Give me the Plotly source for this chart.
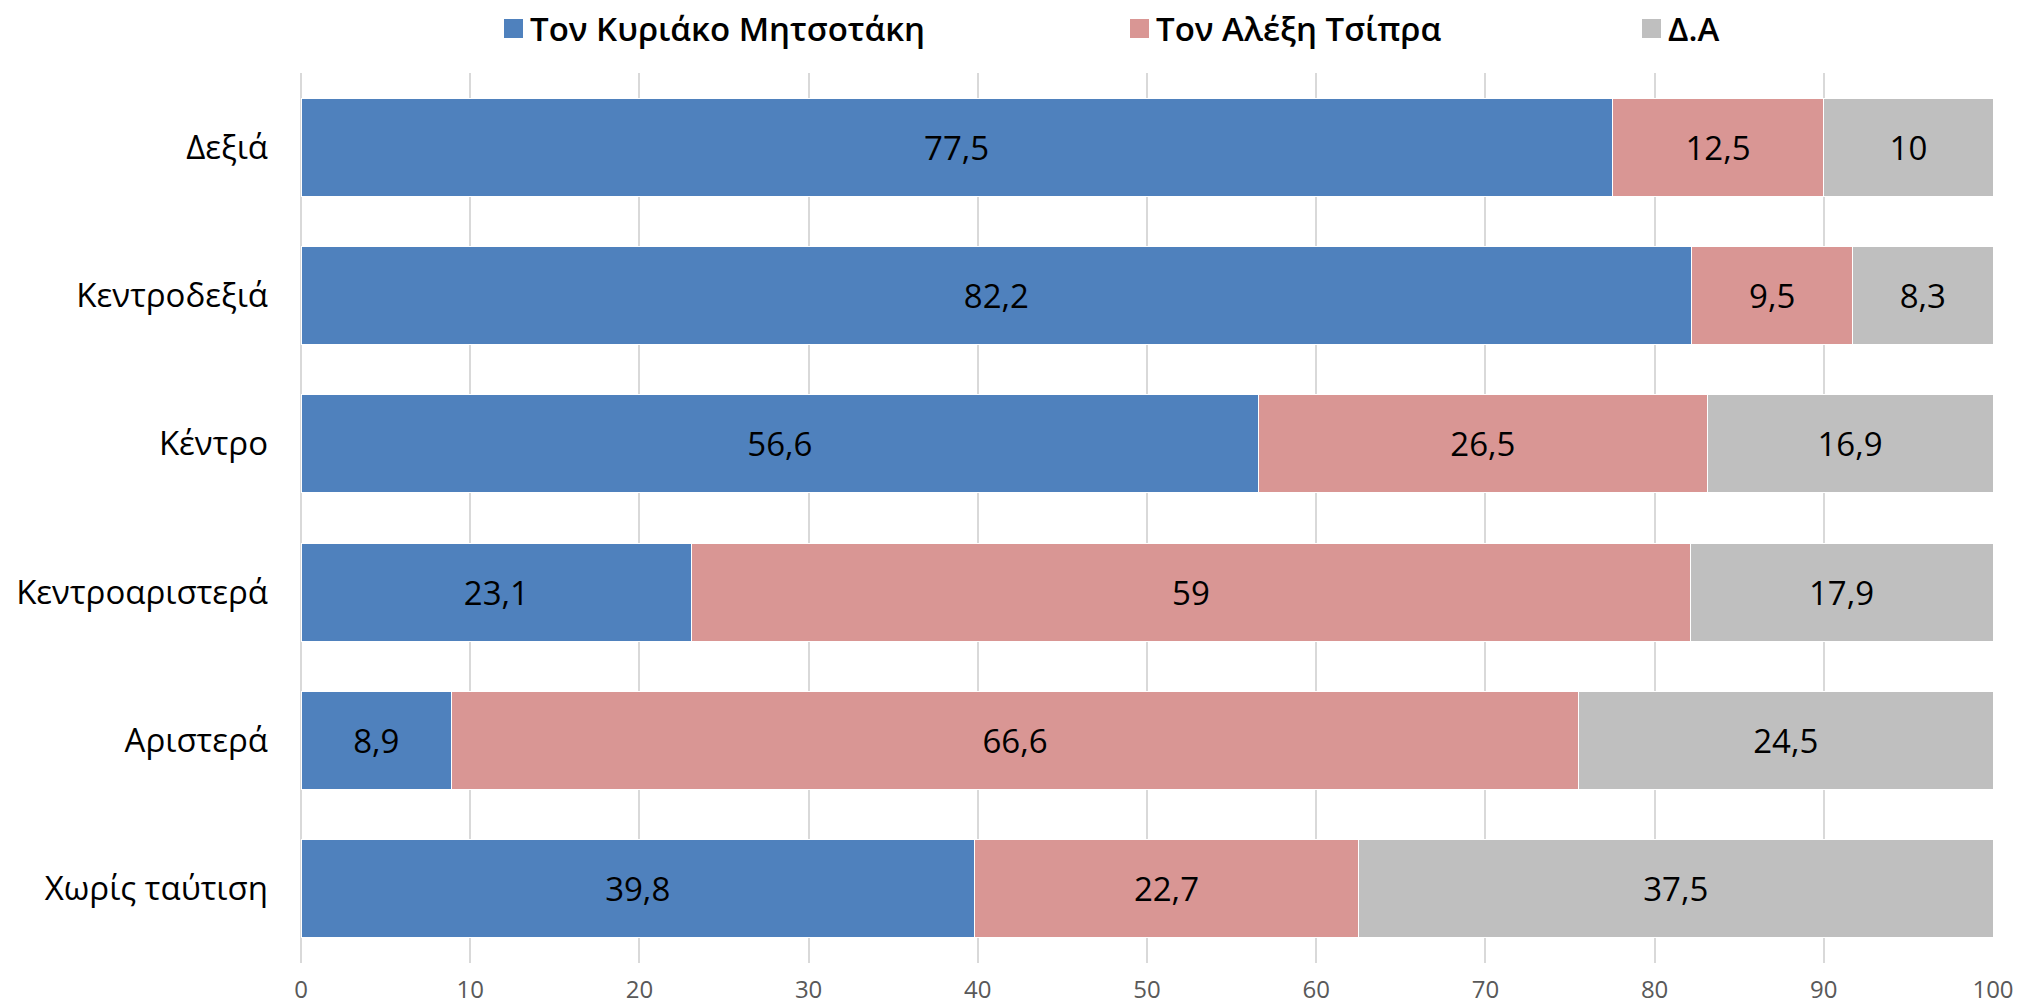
import plotly.graph_objects as go

# Survey: preferred prime minister by political self-placement (%)
categories = ["Δεξιά", "Κεντροδεξιά", "Κέντρο", "Κεντροαριστερά", "Αριστερά", "Χωρίς ταύτιση"]
series_names = ["Τον Κυριάκο Μητσοτάκη", "Τον Αλέξη Τσίπρα", "Δ.Α"]
mitsotakis = [77.5, 82.2, 56.6, 23.1, 8.9, 39.8]
tsipras = [12.5, 9.5, 26.5, 59, 66.6, 22.7]
dk_na = [10, 8.3, 16.9, 17.9, 24.5, 37.5]
x_ticks = [0, 10, 20, 30, 40, 50, 60, 70, 80, 90, 100]

colors = ["#4f81bd", "#d99694", "#bfbfbf"]
FONT = "Open Sans"

W, H = 2018, 1006
ML, MR, MT, MB = 301, 25, 73, 43
PW, PH = W - ML - MR, H - MT - MB


def fmt(v):
    return f"{v:g}".replace(".", ",")


fig = go.Figure()
for name, vals, col in zip(series_names, [mitsotakis, tsipras, dk_na], colors):
    fig.add_trace(go.Bar(
        y=categories,
        x=vals,
        name=name,
        orientation="h",
        marker=dict(color=col, line=dict(color="white", width=1)),
        text=[fmt(v) for v in vals],
        textposition="inside",
        insidetextanchor="middle",
        textangle=0,
        constraintext="none",
        textfont=dict(family=FONT, size=33, color="black"),
        showlegend=False,
        hoverinfo="skip",
    ))

# Legend drawn as coloured squares with text beside them (pixel positions)
legend_x = [504, 1130, 1642]
for name, col, lx in zip(series_names, colors, legend_x):
    fig.add_shape(type="rect", xref="paper", yref="paper",
                  x0=(lx - ML) / PW, x1=(lx + 19 - ML) / PW,
                  y0=1 + (MT - 38) / PH, y1=1 + (MT - 19) / PH,
                  fillcolor=col, line=dict(width=0))
    fig.add_annotation(text=name, xref="paper", yref="paper",
                       x=(lx + 24 - ML) / PW, y=1 + (MT - 29) / PH,
                       xanchor="left", yanchor="middle", showarrow=False,
                       font=dict(family=FONT, size=33, color="black", weight=600))

fig.update_layout(
    width=W, height=H,
    margin=dict(l=ML, r=MR, t=MT, b=MB),
    barmode="stack",
    bargap=0.34,
    plot_bgcolor="white",
    paper_bgcolor="white",
    font=dict(family=FONT),
)
fig.update_xaxes(
    range=[0, 100],
    tickvals=x_ticks,
    automargin=False,
    showgrid=True, gridcolor="#d9d9d9", gridwidth=2,
    zeroline=True, zerolinecolor="#d9d9d9", zerolinewidth=2,
    showline=False,
    ticks="", ticklabelstandoff=10,
    tickfont=dict(family=FONT, size=24, color="#595959"),
)
fig.update_yaxes(
    categoryorder="array", categoryarray=categories,
    autorange="reversed",
    automargin=False,
    showgrid=False, zeroline=False, showline=False,
    ticks="", ticklabelstandoff=32,
    tickfont=dict(family=FONT, size=33, color="black"),
)

fig.write_html("out.html")
